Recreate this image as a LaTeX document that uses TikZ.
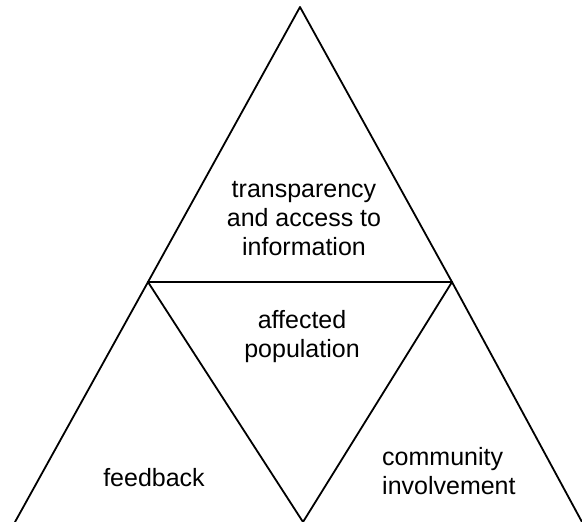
\documentclass[tikz,border=0pt]{standalone}
\usepackage{fontspec}
\setmainfont{Liberation Sans}
\begin{document}
\begin{tikzpicture}[x=1pt,y=-1pt,
  edge/.style={line width=1.8pt,line cap=round,line join=round},
  lbl/.style={font=\fontsize{25}{29}\selectfont,align=center,inner sep=0pt}]
\useasboundingbox[fill=white] (0,0) rectangle (582,522);
\coordinate (A) at (300,7);
\coordinate (L) at (148,282);
\coordinate (R) at (452,282);
\coordinate (BL) at (15,522);
\coordinate (BM) at (303,522);
\coordinate (BR) at (582,522);
\draw[edge] (BL) -- (L) -- (A) -- (R) -- (BR);
\draw[edge] (L) -- (R);
\draw[edge] (L) -- (BM) -- (R);
\node[lbl] (t1) at (304,219) {transparency\\and access to\\information};
\node[lbl] (t2) at (302,337) {affected\\population};
\node[lbl] (t3) at (154,478) {feedback};
\node[lbl,align=left,anchor=west] (t4) at (382,471) {community\\involvement};
\end{tikzpicture}
\end{document}
